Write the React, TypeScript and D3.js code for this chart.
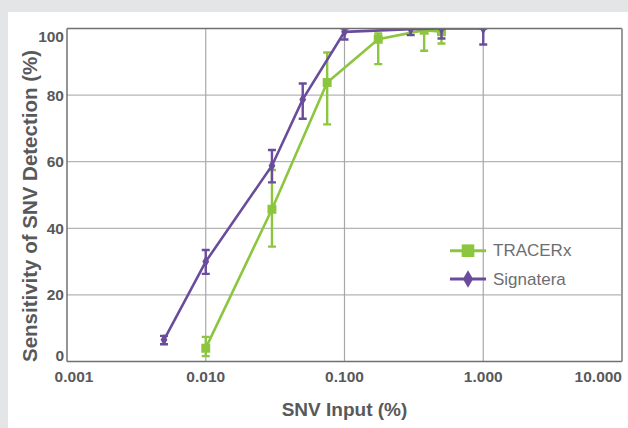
import React from "react";
import * as d3 from "d3";

// ---- data ----
const tracerX = [0.01, 0.03, 0.075, 0.175, 0.375, 0.5];
const tracerY = [4, 45.7, 83.8, 96.8, 99.5, 99];
const tracerLow = [1.6, 34.5, 71.2, 89.3, 93.3, 95.5];
const tracerHigh = [7.4, 57.5, 92.8, 98.5, 100, 100];

const signateraX = [0.005, 0.01, 0.03, 0.05, 0.1, 0.3, 0.5, 1];
const signateraY = [6.5, 30, 58.8, 78.7, 99, 99.8, 100, 100];
const signateraLow = [5.2, 26.3, 53.8, 72.9, 96.7, 98, 97, 95.2];
const signateraHigh = [7.7, 33.5, 63.5, 83.5, 100, 100, 100, 100];

const xTicks = [0.001, 0.01, 0.1, 1, 10];
const xTickLabels = ["0.001", "0.010", "0.100", "1.000", "10.000"];
const yTicks = [0, 20, 40, 60, 80, 100];

const seriesNames = ["TRACERx", "Signatera"];

const GREEN = "#8cc63f";
const PURPLE = "#6b4c9c";
const FONT = "'Liberation Sans', Arial, Helvetica, sans-serif";

export default function App() {
  const W = 628, H = 428;
  const left = 67, right = 622, top = 28.5, bottom = 361.5;
  const x = d3.scaleLog().domain([0.001, 10]).range([left, right]);
  const y = d3.scaleLinear().domain([0, 100]).range([bottom, top]);
  const line = d3.line<[number, number]>().x(d => x(d[0])).y(d => y(d[1]));

  const tr = tracerX.map((v, i) => [v, tracerY[i]] as [number, number]);
  const sg = signateraX.map((v, i) => [v, signateraY[i]] as [number, number]);
  const sq = d3.symbol().type(d3.symbolSquare).size(80)() as string;
  const dia = d3.symbol().type(d3.symbolDiamond).size(40)() as string;
  const sqL = d3.symbol().type(d3.symbolSquare).size(160)() as string;
  const diaL = d3.symbol().type(d3.symbolDiamond).size(90)() as string;

  const errBars = (xs: number[], lo: number[], hi: number[], color: string) =>
    xs.map((v, i) => {
      const cx = x(v);
      return (
        <g key={i} stroke={color} strokeWidth={2.4}>
          <line x1={cx} x2={cx} y1={y(lo[i])} y2={y(hi[i])} />
          <line x1={cx - 4} x2={cx + 4} y1={y(lo[i])} y2={y(lo[i])} />
          <line x1={cx - 4} x2={cx + 4} y1={y(hi[i])} y2={y(hi[i])} />
        </g>
      );
    });

  return (
    <svg width={W} height={H} style={{ position: "absolute", left: 0, top: 0, display: "block" }} fontFamily={FONT}>
      <defs>
        <clipPath id="plotClip">
          <rect x={left - 10} y={top} width={right - left + 10} height={bottom - top + 10} />
        </clipPath>
      </defs>
      <rect x={0} y={0} width={W} height={H} fill="#e4e5e7" />
      <rect x={8} y={12} width={W - 8} height={H - 12} fill="#ffffff" />

      {/* grid */}
      {yTicks.slice(1, -1).map(t => (
        <line key={"gy" + t} x1={left} x2={right} y1={y(t)} y2={y(t)} stroke="#b4b4b4" strokeWidth={1.2} />
      ))}
      {xTicks.slice(1, -1).map(t => (
        <line key={"gx" + t} x1={x(t)} x2={x(t)} y1={top} y2={bottom} stroke="#a8a8a8" strokeWidth={1.2} />
      ))}

      {/* y ticks */}
      {yTicks.map((t, i) => (
        <text key={"yt" + t} x={64} y={y(t) + (i === 0 ? -6 : i === yTicks.length - 1 ? 8 : 0)}
          textAnchor="end" dominantBaseline="central" fontSize={15.5} fontWeight="bold" fill="#58595b">{t}</text>
      ))}
      {/* x ticks */}
      {xTicks.map((t, i) => (
        <text key={"xt" + t} x={i === 0 ? x(t) + 7 : x(t)} y={376}
          textAnchor={i === xTicks.length - 1 ? "end" : "middle"} dominantBaseline="central"
          fontSize={15.5} fontWeight="bold" fill="#58595b">{xTickLabels[i]}</text>
      ))}

      {/* axis titles */}
      <text x={(left + right) / 2} y={409} textAnchor="middle" dominantBaseline="central" fontSize={19} fontWeight="bold" fill="#58595b">SNV Input (%)</text>
      <text transform={`translate(29, 206) rotate(-90)`} textAnchor="middle" dominantBaseline="central" fontSize={20.5} fontWeight="bold" fill="#58595b">Sensitivity of SNV Detection (%)</text>

      <g clipPath="url(#plotClip)">
        {/* TRACERx */}
        <path d={line(tr) as string} fill="none" stroke={GREEN} strokeWidth={2.6} />
        {errBars(tracerX, tracerLow, tracerHigh, GREEN)}
        {tr.map((d, i) => <path key={"ts" + i} d={sq} transform={`translate(${x(d[0])},${y(d[1])})`} fill={GREEN} />)}

        {/* Signatera */}
        <path d={line(sg) as string} fill="none" stroke={PURPLE} strokeWidth={2.6} />
        {errBars(signateraX, signateraLow, signateraHigh, PURPLE)}
        {sg.map((d, i) => <path key={"sd" + i} d={dia} transform={`translate(${x(d[0])},${y(d[1])})`} fill={PURPLE} />)}
      </g>

      {/* frame */}
      <line x1={left} x2={right} y1={top} y2={top} stroke="#707070" strokeWidth={1.5} />
      <line x1={right} x2={right} y1={top} y2={bottom} stroke="#9a9a9a" strokeWidth={2} />
      <line x1={left} x2={left} y1={top} y2={bottom} stroke="#707070" strokeWidth={1.5} />
      <line x1={left} x2={right} y1={bottom} y2={bottom} stroke="#707070" strokeWidth={1.5} />

      {/* legend */}
      <g>
        <line x1={450} x2={486} y1={250.7} y2={250.7} stroke={GREEN} strokeWidth={3} />
        <path d={sqL} transform="translate(468,250.7)" fill={GREEN} />
        <text x={493} y={250.7} dominantBaseline="central" fontSize={17} fill="#6d6e71">{seriesNames[0]}</text>
        <line x1={450} x2={486} y1={279} y2={279} stroke={PURPLE} strokeWidth={3} />
        <path d={diaL} transform="translate(468,279)" fill={PURPLE} />
        <text x={493} y={279} dominantBaseline="central" fontSize={17} fill="#6d6e71">{seriesNames[1]}</text>
      </g>
    </svg>
  );
}
